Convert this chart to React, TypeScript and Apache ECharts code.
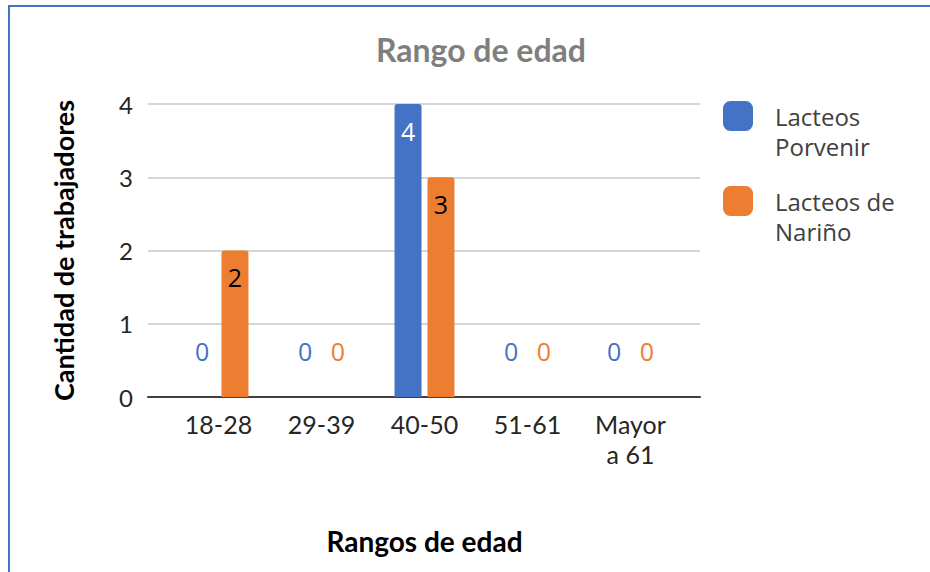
import React, { useEffect, useRef } from "react";
import * as echarts from "echarts";

const categories = ["18-28", "29-39", "40-50", "51-61", "Mayor\na 61"];
const porvenir = [0, 0, 4, 0, 0];
const narino = [2, 0, 3, 0, 0];
const yTicks = [0, 1, 2, 3, 4];
const seriesNames = ["Lacteos Porvenir", "Lacteos de Nariño"];
const legendLabels: Record<string, string> = {
  "Lacteos Porvenir": "Lacteos\nPorvenir",
  "Lacteos de Nariño": "Lacteos de\nNariño",
};

const BLUE = "#4472C4";
const ORANGE = "#ED7D31";

function buildData(values: number[], color: string, insideColor: string) {
  return values.map((v) => ({
    value: v,
    label:
      v === 0
        ? { position: "top", distance: 34, color }
        : { position: "insideTop", distance: 14, color: insideColor },
  }));
}

export default function App() {
  const ref = useRef<HTMLDivElement>(null);
  useEffect(() => {
    document.body.style.margin = "0";
    const chart = echarts.init(ref.current!, undefined, { renderer: "svg" });
    const labelFont = { fontFamily: "Open Sans", fontSize: 25 };
    const legendCommon = {
      orient: "vertical",
      left: 723,
      padding: 0,
      itemWidth: 30,
      itemHeight: 30,
      icon: "roundRect",
      formatter: (n: string) => "\n" + (legendLabels[n] ?? n),
      textStyle: {
        fontFamily: "Open Sans",
        fontSize: 24,
        color: "#404040",
        lineHeight: 30,
        padding: [0, 0, 0, 17],
      },
    };
    chart.setOption({
      animation: false,
      backgroundColor: "#ffffff",
      title: {
        text: "Rango de edad",
        left: 476,
        top: 28,
        textAlign: "center",
        textStyle: {
          fontFamily: "Lato",
          fontWeight: "bold",
          fontSize: 32,
          color: "#7f7f7f",
        },
      },
      legend: [
        { ...legendCommon, top: 71, data: [seriesNames[0]] },
        { ...legendCommon, top: 156, data: [seriesNames[1]] },
      ],
      grid: [
        { left: 148, right: 230, top: 104, bottom: 175 },
        { left: 167, right: 248, top: 104, bottom: 175 },
      ],
      xAxis: [
        {
          type: "category",
          gridIndex: 0,
          data: categories,
          axisLine: { show: true, lineStyle: { color: "#404040", width: 2 } },
          axisTick: { show: false },
          axisLabel: { show: false },
        },
        {
          type: "category",
          gridIndex: 1,
          data: categories,
          axisLine: { show: false },
          axisTick: { show: false },
          axisLabel: {
            fontFamily: "Lato",
            fontSize: 25,
            color: "#262626",
            lineHeight: 30,
            margin: 12,
            verticalAlign: "top",
          },
          name: "Rangos de edad",
          nameLocation: "middle",
          nameGap: 130,
          nameTextStyle: {
            fontFamily: "Lato",
            fontWeight: "bold",
            fontSize: 28,
            color: "#000000",
          },
        },
      ],
      yAxis: [
        {
          type: "value",
          gridIndex: 0,
          min: yTicks[0],
          max: yTicks[yTicks.length - 1],
          interval: 1,
          axisLine: { show: false },
          axisTick: { show: false },
          splitLine: { lineStyle: { color: "#d6d6d6", width: 2 } },
          axisLabel: {
            fontFamily: "Lato",
            fontSize: 24,
            color: "#262626",
            margin: 15,
          },
          name: "Cantidad de trabajadores",
          nameLocation: "middle",
          nameGap: 71,
          nameTextStyle: {
            fontFamily: "Lato",
            fontWeight: "bold",
            fontSize: 27,
            color: "#000000",
          },
        },
        {
          type: "value",
          gridIndex: 1,
          min: yTicks[0],
          max: yTicks[yTicks.length - 1],
          interval: 1,
          show: false,
          splitLine: { show: false },
        },
      ],
      graphic: [
        {
          type: "line",
          shape: { x1: 9, y1: 5, x2: 9, y2: 572 },
          style: { stroke: BLUE, lineWidth: 2 },
        },
        {
          type: "line",
          shape: { x1: 8, y1: 6, x2: 930, y2: 6 },
          style: { stroke: BLUE, lineWidth: 2 },
        },
      ],
      series: [
        {
          name: seriesNames[0],
          type: "bar",
          xAxisIndex: 1,
          yAxisIndex: 1,
          barWidth: 27,
          barGap: "22%",
          itemStyle: { color: BLUE, borderRadius: [3, 3, 0, 0] },
          label: { show: true, ...labelFont },
          data: buildData(porvenir, BLUE, "#ffffff"),
        },
        {
          name: seriesNames[1],
          type: "bar",
          xAxisIndex: 1,
          yAxisIndex: 1,
          barWidth: 27,
          barGap: "22%",
          itemStyle: { color: ORANGE, borderRadius: [3, 3, 0, 0] },
          label: { show: true, ...labelFont },
          data: buildData(narino, ORANGE, "#000000"),
        },
      ],
    });
    return () => chart.dispose();
  }, []);
  return <div ref={ref} style={{ width: 930, height: 572 }} />;
}
